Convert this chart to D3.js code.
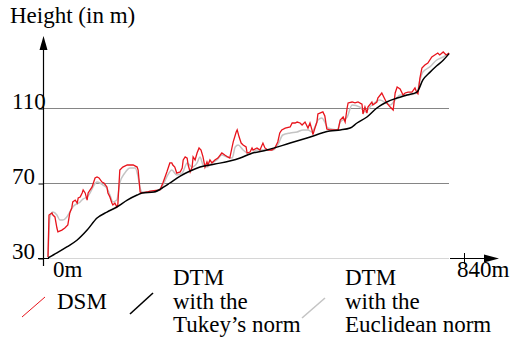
<!DOCTYPE html>
<html>
<head>
<meta charset="utf-8">
<script src="https://cdn.jsdelivr.net/npm/d3@7"></script>
<style>
  html, body { margin: 0; padding: 0; background: #fff; }
  svg text { font-family: 'Liberation Serif', 'Times New Roman', serif; font-size: 23px; fill: #000; }
</style>
</head>
<body>
<div id="chart"></div>
<script>
// distance along the profile (m) and height (m)
const dsm = [
  [0,30.5],[2,52.9],[8,54],[10,52.9],[14,51.9],[18,46],[20,43.9],[28,44.9],[34,46],[40,47.6],
  [44,54],[48,56.7],[50,59.9],[55,60.9],[59,59.3],[61,62],[65,62.5],[69,64.7],[71,66.3],[75,64.7],
  [79,60.9],[81,64.7],[89,67.9],[95,72.7],[99,73.2],[103,72.7],[109,70.5],[113,70],[119,67.9],[121,64.7],
  [125,62.5],[129,59.3],[131,58.3],[135,59.3],[139,57.2],[141,58.3],[145,76.9],[151,78.5],[160,79.6],[172,79.6],
  [180,78.5],[182,76.9],[186,65.2],[190,64.7],[200,65.2],[206,65.7],[226,66.3],[232,70],[240,75.9],[246,80.7],
  [250,80.7],[252,79.6],[256,78.5],[260,75.3],[267,75.9],[271,78],[273,82.3],[277,83.9],[281,83.3],[283,79.6],
  [287,75.9],[291,78.5],[293,83.9],[297,82.3],[301,86],[305,88.7],[309,87.6],[313,83.9],[317,78.5],[321,81.2],
  [323,79.6],[327,82.3],[331,80.7],[337,82.3],[343,83.3],[351,86],[357,84.9],[363,83.9],[367,83.3],[374,91.9],
  [380,97.2],[382,98.3],[386,94.5],[390,91.3],[394,90.3],[400,89.2],[402,86],[408,86.5],[412,88.7],[414,87.6],
  [422,88.7],[428,87.6],[434,91.3],[438,88.7],[444,87.6],[452,87.6],[458,88.7],[464,91.9],[468,96.7],[472,98.3],
  [479,99.3],[489,99.9],[493,102],[499,102],[503,102.5],[509,102],[513,100.9],[519,102.5],[525,99.3],[529,102],
  [533,98.3],[535,95.8],[539,99.3],[543,102.5],[545,106.8],[549,107.3],[555,107.9],[559,105.7],[563,98.8],[569,98.3],
  [579,98.3],[586,98.3],[590,103.6],[596,105.2],[600,102.5],[604,110],[606,112.7],[614,113.2],[620,112.7],[626,113.2],
  [634,112.1],[636,106.8],[640,110.5],[644,107.3],[646,110.5],[654,113.2],[656,111.6],[664,113.2],[666,115.3],[674,118],
  [678,115.9],[684,112.7],[691,110.5],[697,108.9],[701,118],[705,121.2],[711,120.1],[717,116.9],[721,118],[727,118.5],
  [735,118.5],[741,120.7],[745,118],[747,117.5],[751,126],[755,131.3],[761,132.9],[767,134],[775,137.2],[781,138.3],
  [787,139.3],[791,138.3],[798,139.9],[804,138.3],[810,139.3]
];

const dtmTukey = [
  [0,30],[18,32.7],[38,35.9],[59,39.6],[79,44.9],[99,51.3],[119,54.5],[139,57.2],[160,60.9],[180,63.6],
  [190,64.7],[214,65.2],[234,67.9],[246,70],[267,73.7],[287,76.4],[307,78.5],[337,80.1],[367,81.7],[388,83.3],
  [408,85.5],[442,87.6],[489,91.3],[523,94],[569,97.7],[590,98.3],[610,99.3],[624,102],[644,105.2],[664,110],
  [684,113.2],[705,115.3],[725,116.9],[745,118.5],[757,125],[771,129],[785,132.5],[798,135.5],[810,139]
];

const dtmEuclid = [
  [0,30.5],[4,51.9],[10,54.5],[18,52.9],[24,50.3],[30,50.3],[38,51.9],[44,54.5],[50,57.2],[65,59.9],
  [71,61.5],[79,62.5],[85,64.7],[91,67.9],[99,70.5],[105,70],[111,68.9],[119,67.3],[125,63.6],[131,59.9],
  [139,60.9],[145,70],[155,75.3],[166,78],[176,78],[182,73.2],[186,67.3],[190,65.2],[206,65.2],[226,66.3],
  [232,68.9],[242,74.3],[250,76.9],[260,74.3],[271,75.3],[281,80.7],[291,78.5],[301,80.7],[307,83.9],[313,79.6],
  [321,78.5],[331,80.7],[341,82.3],[351,84.9],[361,83.9],[372,83.3],[378,89.2],[384,90.3],[394,87.6],[408,85.5],
  [422,87.6],[442,87.6],[454,87.6],[464,90.3],[474,95.6],[489,96.7],[503,97.2],[515,98.3],[525,98.3],[533,97.2],
  [539,99.9],[545,103.6],[553,104.7],[559,102.5],[565,99.3],[584,98.3],[590,102.5],[604,105.2],[614,111.6],[630,110.5],
  [640,107.9],[654,111.6],[670,114.3],[691,111.6],[701,114.3],[711,116.9],[725,116.9],[745,118],[751,124.9],[757,129.2],
  [771,131.9],[785,135.6],[798,137.2],[810,139.3]
];

const yTicks = [30, 70, 110];
const xEnds = [0, 840];
const legendItems = [
  { lines: ['DSM'], color: '#e8141c' },
  { lines: ['DTM', 'with the', 'Tukey\u2019s norm'], color: '#000' },
  { lines: ['DTM', 'with the', 'Euclidean norm'], color: '#c4c4c4' }
];

const width = 512;
const height = 340;

const x = d3.scaleLinear().domain([0, 840]).range([48, 464]);
const y = d3.scaleLinear().domain([30, 110]).range([258, 108]);
const axisX = 43;

const svg = d3.select('#chart').append('svg')
  .attr('width', width)
  .attr('height', height);

/* grid lines */
svg.append('g')
  .selectAll('line')
  .data(yTicks).enter()
  .append('line')
  .attr('x1', axisX)
  .attr('x2', 449)
  .attr('y1', d => y(d) + 0.5)
  .attr('y2', d => y(d) + 0.5)
  .attr('stroke', d => d === 30 ? '#d6d6d6' : '#858585')
  .attr('stroke-width', 1);

/* y axis */
const yAxis = d3.axisLeft(y).tickValues(yTicks).tickSize(5).tickFormat('');
svg.append('g')
  .attr('transform', `translate(${axisX + 0.5}, 0.5)`)
  .call(yAxis)
  .call(g => g.select('.domain').remove());

svg.append('line')
  .attr('x1', axisX + 0.5).attr('x2', axisX + 0.5)
  .attr('y1', 266).attr('y2', 46)
  .attr('stroke', '#000').attr('stroke-width', 1.2);
svg.append('path')
  .attr('d', `M${axisX + 0.5},36 L${axisX - 3.5},50 L${axisX + 4.5},50 Z`)
  .attr('fill', '#000');
svg.append('line')
  .attr('x1', 38).attr('x2', 49)
  .attr('y1', y(30) + 0.5).attr('y2', y(30) + 0.5)
  .attr('stroke', '#000');

svg.append('g')
  .selectAll('text')
  .data(yTicks).enter()
  .append('text')
  .attr('x', 12)
  .attr('y', d => y(d) + 1)
  .text(d => d);

svg.append('text')
  .attr('x', 10)
  .attr('y', 23)
  .text('Height (in m)');

/* x axis stub with arrow */
svg.append('line')
  .attr('x1', 450).attr('x2', 488)
  .attr('y1', y(30) + 0.5).attr('y2', y(30) + 0.5)
  .attr('stroke', '#000').attr('stroke-width', 1.2);
svg.append('path')
  .attr('d', `M499,${y(30) + 0.5} L484,${y(30) - 3.5} L484,${y(30) + 4.5} Z`)
  .attr('fill', '#000');
svg.append('line')
  .attr('x1', x(840) + 0.5).attr('x2', x(840) + 0.5)
  .attr('y1', 253).attr('y2', 264)
  .attr('stroke', '#000');

svg.append('g')
  .selectAll('text')
  .data(xEnds).enter()
  .append('text')
  .attr('x', d => d === 0 ? 53 : 457)
  .attr('y', 277)
  .text(d => d + 'm');

/* profiles */
const line = d3.line()
  .x(d => x(d[0]))
  .y(d => y(d[1]));

svg.append('path')
  .datum(dtmEuclid)
  .attr('d', line.curve(d3.curveMonotoneX))
  .attr('fill', 'none')
  .attr('stroke', '#c4c4c4')
  .attr('stroke-width', 1.5);

svg.append('path')
  .datum(dsm)
  .attr('d', line.curve(d3.curveLinear))
  .attr('fill', 'none')
  .attr('stroke', '#e8141c')
  .attr('stroke-width', 1.3);

svg.append('path')
  .datum(dtmTukey)
  .attr('d', line.curve(d3.curveMonotoneX))
  .attr('fill', 'none')
  .attr('stroke', '#000')
  .attr('stroke-width', 1.5);

/* legend */
const legendX = [22, 130, 302];
const textX = [57, 173, 345];
const legend = svg.append('g')
  .selectAll('g')
  .data(legendItems).enter()
  .append('g');

legend.append('line')
  .attr('x1', (d, i) => legendX[i])
  .attr('x2', (d, i) => legendX[i] + 23)
  .attr('y1', (d, i) => i === 0 ? 317 : (i === 1 ? 314 : 318))
  .attr('y2', (d, i) => i === 0 ? 297 : (i === 1 ? 293 : 298))
  .attr('stroke', d => d.color)
  .attr('stroke-width', (d, i) => i === 0 ? 1 : 1.6);

legend.each(function (d, i) {
  const g = d3.select(this);
  const start = d.lines.length === 1 ? 309 : 285;
  d.lines.forEach((t, k) => {
    g.append('text')
      .attr('x', textX[i])
      .attr('y', start + k * 23.5)
      .text(t);
  });
});
</script>
</body>
</html>
